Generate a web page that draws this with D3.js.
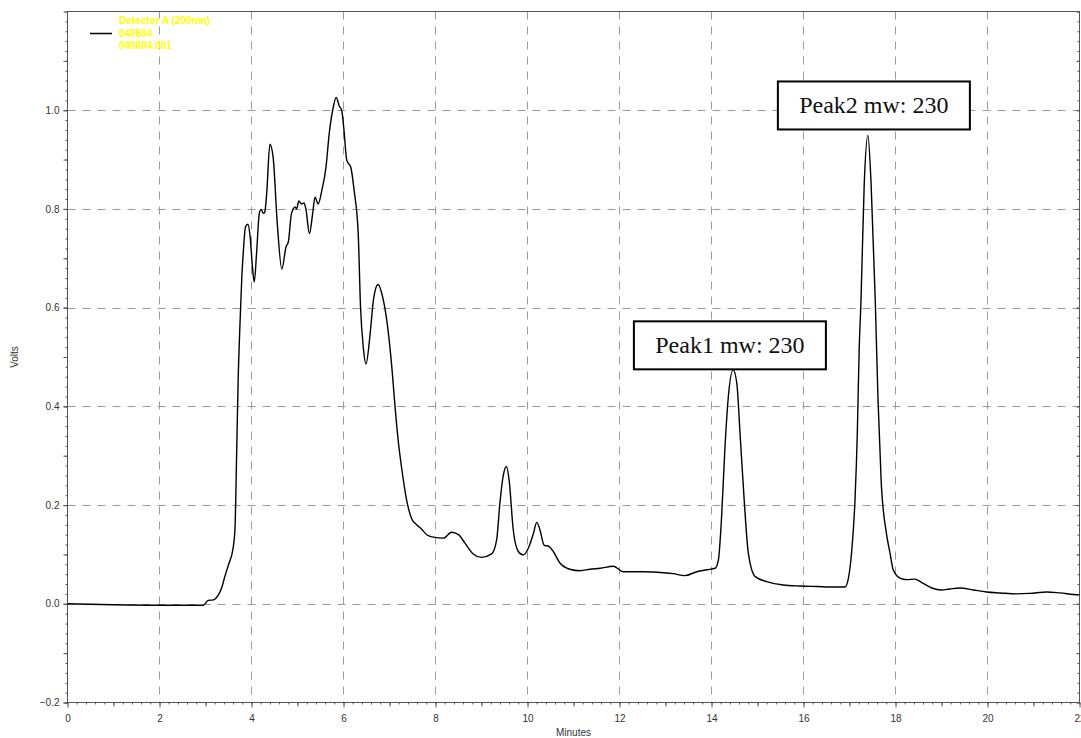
<!DOCTYPE html>
<html><head><meta charset="utf-8">
<script src="https://cdn.jsdelivr.net/npm/d3@7"></script>
<style>html,body{margin:0;padding:0;background:#fff;} svg{display:block;}</style>
</head><body><svg id="c" width="1081" height="738"></svg>
<script>
const minutes = [0,1.0,2.0,2.8,2.95,3.06,3.17,3.28,3.35,3.42,3.50,3.60,3.64,3.68,3.71,3.75,3.79,3.82,3.87,3.92,3.97,4.02,4.06,4.11,4.17,4.21,4.26,4.29,4.33,4.40,4.47,4.56,4.66,4.75,4.80,4.87,4.95,4.98,5.03,5.09,5.14,5.18,5.26,5.33,5.38,5.45,5.53,5.62,5.69,5.78,5.84,5.91,5.96,6.01,6.07,6.16,6.23,6.32,6.37,6.43,6.49,6.58,6.65,6.75,6.85,6.95,7.05,7.12,7.19,7.27,7.37,7.48,7.59,7.70,7.81,7.95,8.17,8.35,8.50,8.64,8.82,9.00,9.22,9.33,9.40,9.47,9.54,9.60,9.69,9.80,9.91,10.02,10.13,10.20,10.27,10.36,10.47,10.56,10.71,10.92,11.14,11.36,11.58,11.87,12.08,12.52,12.95,13.17,13.42,13.68,13.90,14.08,14.15,14.22,14.29,14.36,14.47,14.55,14.62,14.71,14.80,14.95,15.20,15.56,15.92,16.29,16.65,16.90,16.97,17.05,17.12,17.17,17.21,17.25,17.32,17.40,17.47,17.56,17.62,17.69,17.80,17.88,17.95,18.10,18.24,18.42,18.57,18.79,19.00,19.18,19.40,19.69,19.98,20.27,20.63,20.92,21.29,21.58,21.97,22.0];
const volts = [0.000,-0.002,-0.003,-0.003,-0.003,0.007,0.008,0.018,0.032,0.055,0.079,0.113,0.150,0.318,0.453,0.568,0.663,0.710,0.764,0.769,0.744,0.683,0.652,0.710,0.791,0.799,0.791,0.794,0.831,0.931,0.905,0.771,0.678,0.723,0.733,0.791,0.804,0.800,0.816,0.810,0.812,0.801,0.750,0.791,0.824,0.810,0.838,0.885,0.953,1.007,1.026,1.008,1.000,0.960,0.899,0.884,0.838,0.750,0.602,0.520,0.486,0.548,0.615,0.647,0.622,0.568,0.480,0.400,0.330,0.271,0.211,0.173,0.160,0.151,0.140,0.135,0.133,0.145,0.140,0.123,0.101,0.094,0.101,0.130,0.204,0.258,0.278,0.251,0.150,0.106,0.099,0.113,0.143,0.165,0.150,0.119,0.116,0.106,0.082,0.070,0.067,0.070,0.072,0.076,0.065,0.065,0.063,0.061,0.057,0.065,0.069,0.072,0.089,0.177,0.312,0.413,0.474,0.447,0.346,0.211,0.103,0.055,0.045,0.038,0.036,0.035,0.034,0.034,0.049,0.109,0.211,0.346,0.514,0.615,0.850,0.949,0.850,0.615,0.413,0.245,0.144,0.103,0.069,0.052,0.049,0.050,0.043,0.032,0.028,0.030,0.032,0.028,0.024,0.022,0.020,0.021,0.024,0.022,0.018,0.018];
const xTickLabels = [0,2,4,6,8,10,12,14,16,18,20,22];
const yTickLabels = [-0.2,0.0,0.2,0.4,0.6,0.8,1.0];
const xGrid = [2,4,6,8,10,12,14,16,18,20];
const yGrid = [0.0,0.2,0.4,0.6,0.8,1.0];
const legendLines = ["Detector A (200nm)","040804","040804.001"];
const annotationLabels = ["Peak1 mw: 230","Peak2 mw: 230"];
const annotationMinutes = [14.40, 17.53];
const annotationVolts = [0.475, 0.961];
const xTitle = "Minutes";
const yTitle = "Volts";

const svg = d3.select("#c");
const L = 67.5, R = 1079.5, T = 11.5, B = 702.5;
const x = d3.scaleLinear().domain([0,22]).range([L,R]);
const y = d3.scaleLinear().domain([-0.2,1.2]).range([B,T]);
const axisColor = "#555";
const font = "'Liberation Sans', Arial, sans-serif";

// grid
const grid = svg.append("g").attr("stroke","#9a9a9a").attr("stroke-width",1).attr("stroke-dasharray","8,7").attr("fill","none");
grid.selectAll("line.v").data(xGrid).join("line").attr("class","v")
  .attr("x1",d=>x(d)).attr("x2",d=>x(d)).attr("y1",T).attr("y2",B);
grid.selectAll("line.h").data(yGrid).join("line").attr("class","h")
  .attr("x1",L).attr("x2",R).attr("y1",d=>Math.round(y(d))+0.5).attr("y2",d=>Math.round(y(d))+0.5);

// frame
svg.append("rect").attr("x",L).attr("y",T).attr("width",R-L).attr("height",B-T)
  .attr("fill","none").attr("stroke",axisColor).attr("stroke-width",1);

function styleAxis(g){
  g.select(".domain").remove();
  g.selectAll(".tick line").attr("stroke",axisColor);
  g.selectAll(".tick text").attr("fill","#333").attr("font-family",font).attr("font-size","10px");
}
const xMinor = d3.range(0,111).map(i=>i*0.2);
const xMid = d3.range(0,23).filter(i=>i%2===1);
const yMinor = d3.range(0,71).map(i=>-0.2+i*0.02);
const yMid = d3.range(0,15).map(i=>-0.2+i*0.1);

svg.append("g").attr("transform",`translate(0,${B})`)
  .call(d3.axisBottom(x).tickValues(xMinor).tickSize(2).tickFormat("")).call(styleAxis);
svg.append("g").attr("transform",`translate(0,${B})`)
  .call(d3.axisBottom(x).tickValues(xMid).tickSize(4).tickFormat("")).call(styleAxis);
svg.append("g").attr("transform",`translate(0,${B})`)
  .call(d3.axisBottom(x).tickValues(xTickLabels).tickSize(5).tickPadding(7).tickFormat(d3.format("d"))).call(styleAxis);

svg.append("g").attr("transform",`translate(${L},0)`)
  .call(d3.axisLeft(y).tickValues(yMinor).tickSize(2).tickFormat("")).call(styleAxis);
svg.append("g").attr("transform",`translate(${L},0)`)
  .call(d3.axisLeft(y).tickValues(yMid).tickSize(4).tickFormat("")).call(styleAxis);
svg.append("g").attr("transform",`translate(${L},0)`)
  .call(d3.axisLeft(y).tickValues(yTickLabels).tickSize(4).tickPadding(4).tickFormat(d3.format(".1f"))).call(styleAxis);

svg.append("g").attr("transform",`translate(${R},0)`)
  .call(d3.axisLeft(y).tickValues(yMinor).tickSize(2).tickFormat("")).call(styleAxis);
svg.append("g").attr("transform",`translate(${R},0)`)
  .call(d3.axisLeft(y).tickValues(yMid).tickSize(3).tickFormat("")).call(styleAxis);

// axis titles
svg.append("text").attr("x",(L+R)/2).attr("y",736).attr("text-anchor","middle")
  .attr("font-family",font).attr("font-size","10px").attr("fill","#333").text(xTitle);
svg.append("text").attr("transform",`translate(18,${(T+B)/2}) rotate(-90)`).attr("text-anchor","middle")
  .attr("font-family",font).attr("font-size","10px").attr("fill","#333").text(yTitle);

// trace
const pts = minutes.map((m,i)=>[m,volts[i]]);
svg.append("path").datum(pts)
  .attr("fill","none").attr("stroke","#000").attr("stroke-width",1.4).attr("stroke-linejoin","round")
  .attr("d", d3.line().x(d=>x(d[0])).y(d=>y(d[1])).curve(d3.curveMonotoneX));

// legend
svg.append("line").attr("x1",90).attr("x2",112).attr("y1",33.5).attr("y2",33.5).attr("stroke","#000").attr("stroke-width",1.5);
svg.append("g").selectAll("text").data(legendLines).join("text")
  .attr("x",119).attr("y",(d,i)=>24+i*12.5)
  .attr("font-family",font).attr("font-size","10px").attr("font-weight","bold").attr("fill","#ffff00")
  .text(d=>d);

// annotations
const ann = svg.append("g");
annotationLabels.forEach((lab,i)=>{
  const cx = x(annotationMinutes[i]);
  const by = y(annotationVolts[i]);
  const w = 192, h = 48;
  ann.append("rect").attr("x",cx-w/2).attr("y",by-h).attr("width",w).attr("height",h)
    .attr("fill","#fff").attr("stroke","#000").attr("stroke-width",2);
  ann.append("text").attr("x",cx).attr("y",by-16).attr("text-anchor","middle")
    .attr("font-family","'Liberation Serif','Times New Roman',serif").attr("font-size","24px").attr("fill","#111")
    .text(lab);
});
</script>
</body></html>
